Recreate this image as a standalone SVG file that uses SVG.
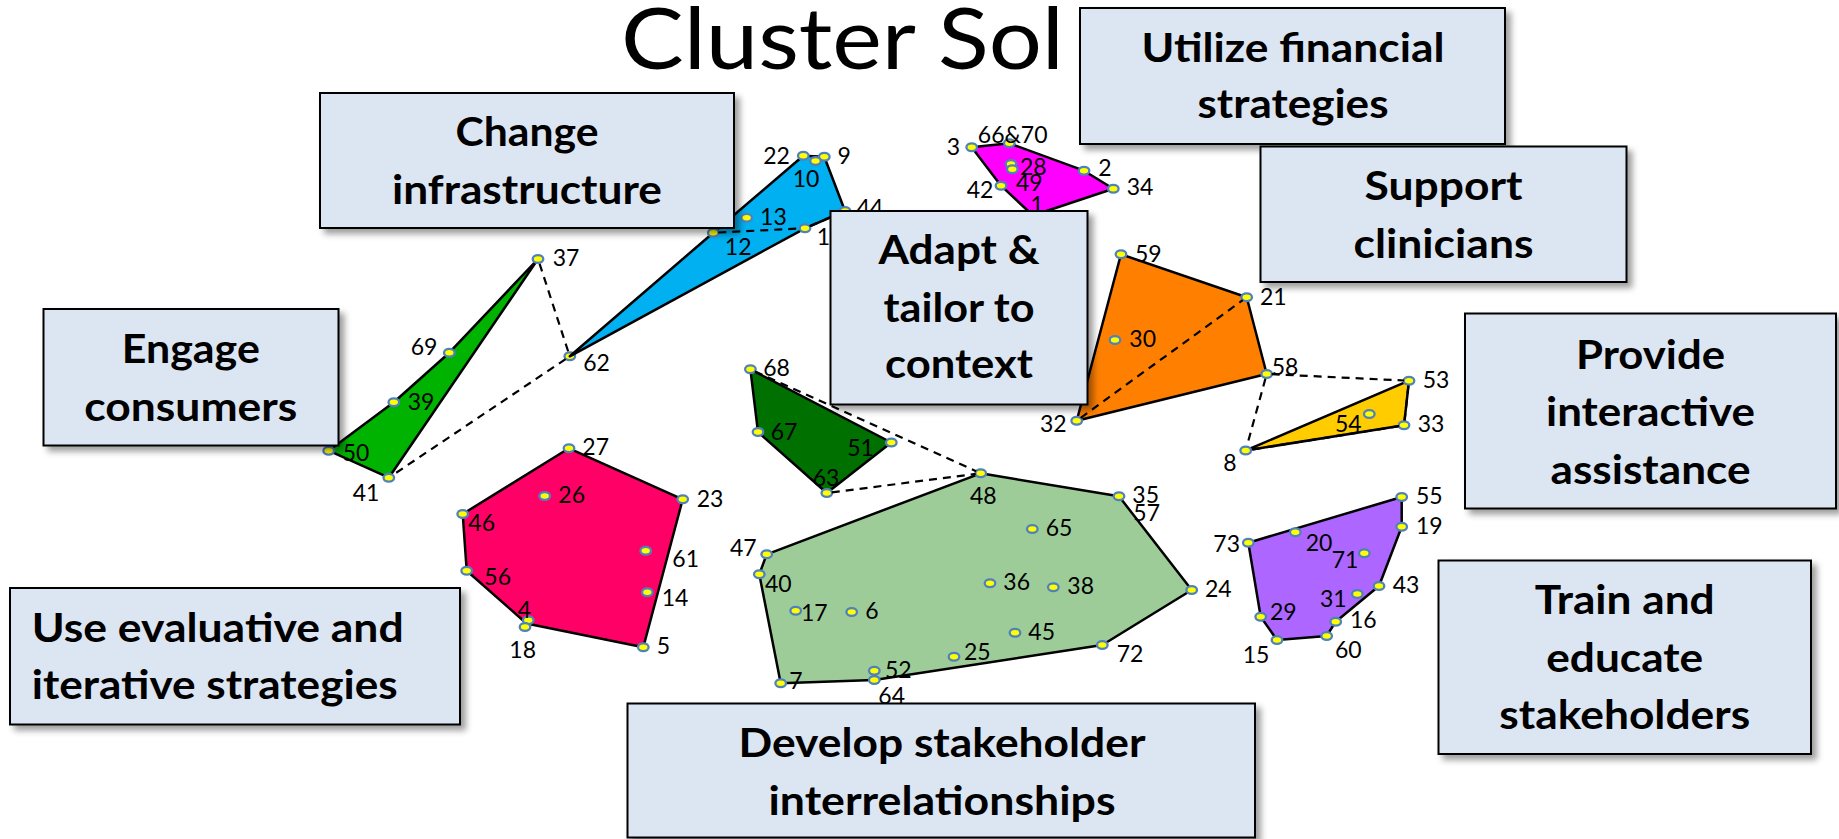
<svg xmlns="http://www.w3.org/2000/svg" width="1839" height="839" viewBox="0 0 1839 839">
  <defs>
    <filter id="boxShadow" x="-10%" y="-10%" width="125%" height="130%">
      <feDropShadow dx="5" dy="5" stdDeviation="3" flood-color="#000" flood-opacity="0.38"/>
    </filter>
    <style>
      .title { font-family: Lato, "Liberation Sans", sans-serif; font-size: 86px; font-weight: 400; fill: #000; }
      .hull { stroke: #000; stroke-width: 2.5; stroke-linejoin: round; }
      .pt { fill: #ffff00; stroke: #4f81bd; stroke-width: 2.3; }
      .lbl { font-family: Lato, "Liberation Sans", sans-serif; font-size: 23px; fill: #000; text-anchor: middle; }
      .dash { fill: none; stroke: #000; stroke-width: 2.2; stroke-dasharray: 8 6; }
      .box rect { fill: #dce6f2; stroke: #000; stroke-width: 2; filter: url(#boxShadow); }
      .box text { font-family: Lato, "Liberation Sans", sans-serif; font-size: 40px; font-weight: 700; fill: #000; text-anchor: middle; }
      .box text.left { text-anchor: start; }
    </style>
  </defs>

  <rect width="1839" height="839" fill="#fff"/>

  <!-- heading -->
  <text class="title" x="621" y="69" textLength="443" lengthAdjust="spacingAndGlyphs">Cluster Sol</text>

  <!-- cluster: green -->
  <g id="cluster-green">
    <polygon class="hull" fill="#00b300" points="538,259 449.3,352.7 393.8,402.3 328.7,450.7 388.8,477.7"/>
    <ellipse class="pt" cx="538" cy="259" rx="5.3" ry="3.9"/>
    <ellipse class="pt" cx="449.3" cy="352.7" rx="5.3" ry="3.9"/>
    <ellipse class="pt" cx="393.8" cy="402.3" rx="5.3" ry="3.9"/>
    <ellipse class="pt" cx="328.7" cy="450.7" rx="5.3" ry="3.9"/>
    <ellipse class="pt" cx="388.8" cy="477.7" rx="5.3" ry="3.9"/>
    <text class="lbl" x="566" y="266">37</text>
    <text class="lbl" x="424" y="355">69</text>
    <text class="lbl" x="421" y="409.5">39</text>
    <text class="lbl" x="356" y="460.7">50</text>
    <text class="lbl" x="366" y="501">41</text>
  </g>

  <!-- lone point 62 -->
  <g id="point-62">
    <ellipse class="pt" cx="569.8" cy="356.3" rx="5.3" ry="3.9"/>
    <text class="lbl" x="596.6" y="371.3">62</text>
  </g>

  <!-- cluster: blue -->
  <g id="cluster-blue">
    <polygon class="hull" fill="#00b0f0" points="803.3,155.7 824.3,156.7 845,211 805,228.3 569.8,356.3 713.3,232.7"/>
    <ellipse class="pt" cx="803.3" cy="155.7" rx="5.3" ry="3.9"/>
    <ellipse class="pt" cx="824.3" cy="156.7" rx="5.3" ry="3.9"/>
    <ellipse class="pt" cx="815.5" cy="161" rx="5.3" ry="3.9"/>
    <ellipse class="pt" cx="746.6" cy="217.7" rx="5.3" ry="3.9"/>
    <ellipse class="pt" cx="713.3" cy="232.7" rx="5.3" ry="3.9"/>
    <ellipse class="pt" cx="805" cy="228.3" rx="5.3" ry="3.9"/>
    <ellipse class="pt" cx="845" cy="211" rx="5.3" ry="3.9"/>
    <text class="lbl" x="776.5" y="163.7">22</text>
    <text class="lbl" x="844.2" y="164">9</text>
    <text class="lbl" x="806" y="187">10</text>
    <text class="lbl" x="773.4" y="224.7">13</text>
    <text class="lbl" x="738.2" y="254.7">12</text>
    <text class="lbl" x="823.3" y="244.7">1</text>
    <text class="lbl" x="870" y="216">44</text>
  </g>

  <!-- cluster: magenta -->
  <g id="cluster-magenta">
    <polygon class="hull" fill="#ff00ff" points="971.7,147.3 1009.3,143.3 1084,170.7 1113.3,188.7 1033,215.5 1001,185.7"/>
    <ellipse class="pt" cx="971.7" cy="147.3" rx="5.3" ry="3.9"/>
    <ellipse class="pt" cx="1009.3" cy="143.3" rx="5.3" ry="3.9"/>
    <ellipse class="pt" cx="1011" cy="164" rx="5.3" ry="3.9"/>
    <ellipse class="pt" cx="1012.3" cy="169.3" rx="5.3" ry="3.9"/>
    <ellipse class="pt" cx="1084" cy="170.7" rx="5.3" ry="3.9"/>
    <ellipse class="pt" cx="1001" cy="185.7" rx="5.3" ry="3.9"/>
    <ellipse class="pt" cx="1113.3" cy="188.7" rx="5.3" ry="3.9"/>
    <text class="lbl" x="953.3" y="154.7">3</text>
    <text class="lbl" x="1012.7" y="143">66&amp;70</text>
    <text class="lbl" x="1033.3" y="174.7">28</text>
    <text class="lbl" x="1029.3" y="191.3">49</text>
    <text class="lbl" x="1105" y="176.3">2</text>
    <text class="lbl" x="980" y="198">42</text>
    <text class="lbl" x="1140" y="195.3">34</text>
    <text class="lbl" x="1037" y="213">1</text>
  </g>

  <!-- cluster: dark green -->
  <g id="cluster-darkgreen">
    <polygon class="hull" fill="#007000" points="750.4,369.3 891.3,442.5 826.8,493 758,432"/>
    <ellipse class="pt" cx="750.4" cy="369.3" rx="5.3" ry="3.9"/>
    <ellipse class="pt" cx="758" cy="432" rx="5.3" ry="3.9"/>
    <ellipse class="pt" cx="891.3" cy="442.5" rx="5.3" ry="3.9"/>
    <ellipse class="pt" cx="826.8" cy="493" rx="5.3" ry="3.9"/>
    <text class="lbl" x="776.5" y="376.3">68</text>
    <text class="lbl" x="784" y="439.7">67</text>
    <text class="lbl" x="860.6" y="456.3">51</text>
    <text class="lbl" x="826" y="486.3">63</text>
  </g>

  <!-- cluster: light green -->
  <g id="cluster-lightgreen">
    <polygon class="hull" fill="#9dcc99" points="980.7,473.3 1119,496.3 1191.7,590 1102.3,645 874.3,680 780.7,683.3 759.3,574.3 766.7,554.3"/>
    <ellipse class="pt" cx="980.7" cy="473.3" rx="5.3" ry="3.9"/>
    <ellipse class="pt" cx="1119" cy="496.3" rx="5.3" ry="3.9"/>
    <ellipse class="pt" cx="1032.3" cy="529" rx="5.3" ry="3.9"/>
    <ellipse class="pt" cx="766.7" cy="554.3" rx="5.3" ry="3.9"/>
    <ellipse class="pt" cx="759.3" cy="574.3" rx="5.3" ry="3.9"/>
    <ellipse class="pt" cx="990" cy="583.3" rx="5.3" ry="3.9"/>
    <ellipse class="pt" cx="1053.3" cy="587.3" rx="5.3" ry="3.9"/>
    <ellipse class="pt" cx="1191.7" cy="590" rx="5.3" ry="3.9"/>
    <ellipse class="pt" cx="795.7" cy="610.7" rx="5.3" ry="3.9"/>
    <ellipse class="pt" cx="851.7" cy="612" rx="5.3" ry="3.9"/>
    <ellipse class="pt" cx="1015" cy="632.7" rx="5.3" ry="3.9"/>
    <ellipse class="pt" cx="1102.3" cy="645" rx="5.3" ry="3.9"/>
    <ellipse class="pt" cx="954" cy="656.7" rx="5.3" ry="3.9"/>
    <ellipse class="pt" cx="874.3" cy="670.7" rx="5.3" ry="3.9"/>
    <ellipse class="pt" cx="874.3" cy="680" rx="5.3" ry="3.9"/>
    <ellipse class="pt" cx="780.7" cy="683.3" rx="5.3" ry="3.9"/>
    <text class="lbl" x="983.3" y="504">48</text>
    <text class="lbl" x="1145.7" y="503">35</text>
    <text class="lbl" x="1146.7" y="520.7">57</text>
    <text class="lbl" x="1059" y="536.3">65</text>
    <text class="lbl" x="743.3" y="555.7">47</text>
    <text class="lbl" x="778.3" y="592.3">40</text>
    <text class="lbl" x="1016.7" y="589.7">36</text>
    <text class="lbl" x="1080.7" y="594">38</text>
    <text class="lbl" x="1218.3" y="597.3">24</text>
    <text class="lbl" x="814.3" y="621.3">17</text>
    <text class="lbl" x="872" y="619.3">6</text>
    <text class="lbl" x="1041.7" y="639.7">45</text>
    <text class="lbl" x="1130" y="662">72</text>
    <text class="lbl" x="977.3" y="659.7">25</text>
    <text class="lbl" x="898.3" y="678">52</text>
    <text class="lbl" x="891.7" y="704">64</text>
    <text class="lbl" x="796" y="688.7">7</text>
  </g>

  <!-- cluster: pink -->
  <g id="cluster-pink">
    <polygon class="hull" fill="#ff0066" points="569,448.3 682.7,499.3 643.3,647.3 526.5,623.5 466.7,570.7 462.7,514"/>
    <ellipse class="pt" cx="569" cy="448.3" rx="5.3" ry="3.9"/>
    <ellipse class="pt" cx="544.7" cy="496" rx="5.3" ry="3.9"/>
    <ellipse class="pt" cx="682.7" cy="499.3" rx="5.3" ry="3.9"/>
    <ellipse class="pt" cx="462.7" cy="514" rx="5.3" ry="3.9"/>
    <ellipse class="pt" cx="645.7" cy="550.7" rx="5.3" ry="3.9"/>
    <ellipse class="pt" cx="466.7" cy="570.7" rx="5.3" ry="3.9"/>
    <ellipse class="pt" cx="647.3" cy="592.3" rx="5.3" ry="3.9"/>
    <ellipse class="pt" cx="528.3" cy="620.3" rx="5.3" ry="3.9"/>
    <ellipse class="pt" cx="525" cy="627" rx="5.3" ry="3.9"/>
    <ellipse class="pt" cx="643.3" cy="647.3" rx="5.3" ry="3.9"/>
    <text class="lbl" x="595.7" y="454.7">27</text>
    <text class="lbl" x="571.7" y="503">26</text>
    <text class="lbl" x="710" y="507.3">23</text>
    <text class="lbl" x="481.7" y="530.7">46</text>
    <text class="lbl" x="685.7" y="567.3">61</text>
    <text class="lbl" x="497.7" y="584.7">56</text>
    <text class="lbl" x="675" y="605.7">14</text>
    <text class="lbl" x="524.3" y="618">4</text>
    <text class="lbl" x="522.7" y="658">18</text>
    <text class="lbl" x="663.3" y="654">5</text>
  </g>

  <!-- cluster: orange -->
  <g id="cluster-orange">
    <polygon class="hull" fill="#ff8000" points="1121,254.3 1246.7,297.3 1266.7,374 1076.7,420.7"/>
    <ellipse class="pt" cx="1121" cy="254.3" rx="5.3" ry="3.9"/>
    <ellipse class="pt" cx="1246.7" cy="297.3" rx="5.3" ry="3.9"/>
    <ellipse class="pt" cx="1115" cy="340" rx="5.3" ry="3.9"/>
    <ellipse class="pt" cx="1266.7" cy="374" rx="5.3" ry="3.9"/>
    <ellipse class="pt" cx="1076.7" cy="420.7" rx="5.3" ry="3.9"/>
    <text class="lbl" x="1148.3" y="262">59</text>
    <text class="lbl" x="1273.3" y="304.7">21</text>
    <text class="lbl" x="1142.7" y="347">30</text>
    <text class="lbl" x="1285" y="374.7">58</text>
    <text class="lbl" x="1053.3" y="432">32</text>
  </g>

  <!-- cluster: yellow -->
  <g id="cluster-yellow">
    <polygon class="hull" fill="#ffcc00" points="1409,380.7 1404,425.3 1245.7,450.5"/>
    <ellipse class="pt" cx="1409" cy="380.7" rx="5.3" ry="3.9"/>
    <ellipse class="pt" cx="1369.3" cy="414" rx="5.3" ry="3.9"/>
    <ellipse class="pt" cx="1404" cy="425.3" rx="5.3" ry="3.9"/>
    <ellipse class="pt" cx="1245.7" cy="450.5" rx="5.3" ry="3.9"/>
    <text class="lbl" x="1436" y="388">53</text>
    <text class="lbl" x="1348.3" y="432">54</text>
    <text class="lbl" x="1431" y="432">33</text>
    <text class="lbl" x="1230" y="471.3">8</text>
  </g>

  <!-- cluster: purple -->
  <g id="cluster-purple">
    <polygon class="hull" fill="#ad66ff" points="1248.3,542.7 1401.7,497 1401.7,526.7 1379,586 1335.7,621.7 1326.7,636 1277,640 1260.7,616.7"/>
    <ellipse class="pt" cx="1401.7" cy="497" rx="5.3" ry="3.9"/>
    <ellipse class="pt" cx="1401.7" cy="526.7" rx="5.3" ry="3.9"/>
    <ellipse class="pt" cx="1248.3" cy="542.7" rx="5.3" ry="3.9"/>
    <ellipse class="pt" cx="1295.3" cy="532.3" rx="5.3" ry="3.9"/>
    <ellipse class="pt" cx="1364.3" cy="553.3" rx="5.3" ry="3.9"/>
    <ellipse class="pt" cx="1379" cy="586" rx="5.3" ry="3.9"/>
    <ellipse class="pt" cx="1357.3" cy="594" rx="5.3" ry="3.9"/>
    <ellipse class="pt" cx="1260.7" cy="616.7" rx="5.3" ry="3.9"/>
    <ellipse class="pt" cx="1335.7" cy="621.7" rx="5.3" ry="3.9"/>
    <ellipse class="pt" cx="1277" cy="640" rx="5.3" ry="3.9"/>
    <ellipse class="pt" cx="1326.7" cy="636" rx="5.3" ry="3.9"/>
    <text class="lbl" x="1429.3" y="504">55</text>
    <text class="lbl" x="1429.3" y="533.7">19</text>
    <text class="lbl" x="1226.7" y="552.3">73</text>
    <text class="lbl" x="1319" y="550.7">20</text>
    <text class="lbl" x="1345" y="568">71</text>
    <text class="lbl" x="1406" y="593">43</text>
    <text class="lbl" x="1333.3" y="607.3">31</text>
    <text class="lbl" x="1283.3" y="620.3">29</text>
    <text class="lbl" x="1363.3" y="628">16</text>
    <text class="lbl" x="1256" y="663">15</text>
    <text class="lbl" x="1348.3" y="658">60</text>
  </g>

  <!-- dashed links between points -->
  <g id="connectors">
    <line class="dash" x1="539.6" y1="263.8" x2="568.2" y2="351.5"/>
    <line class="dash" x1="565.6" y1="359.1" x2="393" y2="474.9"/>
    <line class="dash" x1="718.3" y1="232.5" x2="800" y2="228.5"/>
    <line class="dash" x1="809.6" y1="226.3" x2="840.4" y2="213"/>
    <line class="dash" x1="755" y1="371.4" x2="976.1" y2="471.2"/>
    <line class="dash" x1="831.8" y1="492.4" x2="975.7" y2="473.9"/>
    <line class="dash" x1="1080.7" y1="417.8" x2="1242.7" y2="300.2"/>
    <line class="dash" x1="1271.7" y1="374.2" x2="1404" y2="380.5"/>
    <line class="dash" x1="1265.4" y1="378.8" x2="1247" y2="445.7"/>
    <line class="dash" x1="1408.4" y1="385.7" x2="1404.6" y2="420.3"/>
    <line class="dash" x1="1399.1" y1="426.1" x2="1250.6" y2="449.7"/>
  </g>

  <!-- category boxes -->
  <g id="box-change-infrastructure" class="box">
    <rect x="320" y="93" width="414" height="135"/>
    <text x="527" y="146" textLength="143" lengthAdjust="spacingAndGlyphs">Change</text>
    <text x="527" y="204" textLength="270" lengthAdjust="spacingAndGlyphs">infrastructure</text>
  </g>

  <g id="box-utilize-financial" class="box">
    <rect x="1080" y="8" width="425" height="136"/>
    <text x="1293" y="62" textLength="303" lengthAdjust="spacingAndGlyphs">Utilize financial</text>
    <text x="1293" y="118" textLength="191" lengthAdjust="spacingAndGlyphs">strategies</text>
  </g>

  <g id="box-support-clinicians" class="box">
    <rect x="1260.5" y="146.5" width="366" height="135.5"/>
    <text x="1443.5" y="200" textLength="158" lengthAdjust="spacingAndGlyphs">Support</text>
    <text x="1443.5" y="258" textLength="180" lengthAdjust="spacingAndGlyphs">clinicians</text>
  </g>

  <g id="box-interactive-assistance" class="box">
    <rect x="1465" y="313.5" width="371" height="195"/>
    <text x="1650.5" y="368.5" textLength="149" lengthAdjust="spacingAndGlyphs">Provide</text>
    <text x="1650.5" y="426" textLength="209" lengthAdjust="spacingAndGlyphs">interactive</text>
    <text x="1650.5" y="483.5" textLength="200" lengthAdjust="spacingAndGlyphs">assistance</text>
  </g>

  <g id="box-train-educate" class="box">
    <rect x="1438.5" y="560.5" width="372.5" height="193.5"/>
    <text x="1624.7" y="614" textLength="180" lengthAdjust="spacingAndGlyphs">Train and</text>
    <text x="1624.7" y="671.7" textLength="157" lengthAdjust="spacingAndGlyphs">educate</text>
    <text x="1624.7" y="729.3" textLength="251" lengthAdjust="spacingAndGlyphs">stakeholders</text>
  </g>

  <g id="box-stakeholder-interrelationships" class="box">
    <rect x="627.5" y="703.5" width="627.5" height="134"/>
    <text x="942" y="757.3" textLength="407" lengthAdjust="spacingAndGlyphs">Develop stakeholder</text>
    <text x="942" y="815" textLength="347" lengthAdjust="spacingAndGlyphs">interrelationships</text>
  </g>

  <g id="box-evaluative-iterative" class="box">
    <rect x="10" y="588" width="450" height="136.5"/>
    <text class="left" x="31.7" y="642.3" textLength="372" lengthAdjust="spacingAndGlyphs">Use evaluative and</text>
    <text class="left" x="31.7" y="699.3" textLength="366" lengthAdjust="spacingAndGlyphs">iterative strategies</text>
  </g>

  <g id="box-engage-consumers" class="box">
    <rect x="43.5" y="309" width="295" height="136.5"/>
    <text x="190.8" y="363.3" textLength="138" lengthAdjust="spacingAndGlyphs">Engage</text>
    <text x="190.8" y="421" textLength="213" lengthAdjust="spacingAndGlyphs">consumers</text>
  </g>

  <g id="box-adapt-tailor" class="box">
    <rect x="830.5" y="211" width="257" height="193.5"/>
    <text x="959" y="264.3" textLength="161" lengthAdjust="spacingAndGlyphs">Adapt &amp;</text>
    <text x="959" y="321.7" textLength="151" lengthAdjust="spacingAndGlyphs">tailor to</text>
    <text x="959" y="378.3" textLength="148" lengthAdjust="spacingAndGlyphs">context</text>
  </g>
</svg>
